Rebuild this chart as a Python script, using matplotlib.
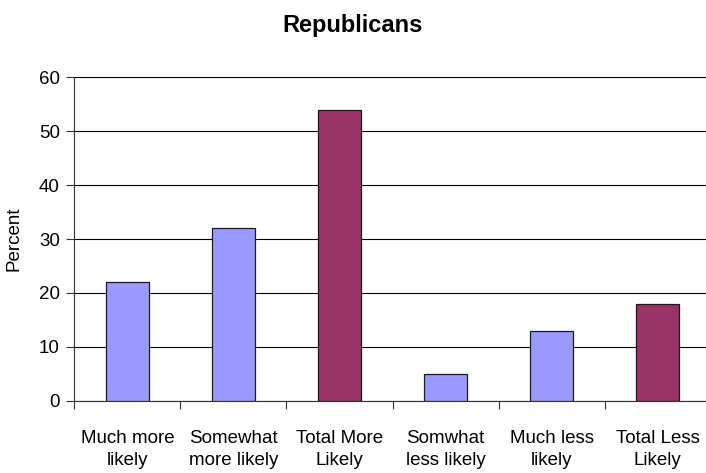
import matplotlib
matplotlib.use("Agg")
import matplotlib.pyplot as plt
import numpy as np

categories = ["Much more\nlikely", "Somewhat\nmore likely", "Total More\nLikely",
              "Somwhat\nless likely", "Much less\nlikely", "Total Less\nLikely"]
values = [22, 32, 54, 5, 13, 18]
bar_colors = ["#9999FF", "#9999FF", "#993366", "#9999FF", "#9999FF", "#993366"]
y_ticks = [0, 10, 20, 30, 40, 50, 60]

plt.rcParams["font.family"] = ["Liberation Sans", "DejaVu Sans"]

fig = plt.figure(figsize=(7.06, 4.73), dpi=100)
ax = fig.add_axes([74.4 / 706, 1 - 400.7 / 473, (710.6 - 74.4) / 706, (400.7 - 77.3) / 473])

x = np.arange(len(categories))
ax.bar(x, values, width=0.4, color=bar_colors, edgecolor="#1a1a1a", linewidth=0.9, zorder=3)

ax.set_xlim(-0.5, len(categories) - 0.5)
ax.set_ylim(0, 60)
ax.set_yticks(y_ticks)
ax.set_yticklabels([str(v) for v in y_ticks], fontsize=13.5)

ax.set_xticks(x)
ax.set_xticklabels(categories, fontsize=13.5, linespacing=1.42)
ax.set_xticks(np.arange(len(categories) + 1) - 0.5, minor=True)
ax.tick_params(axis="x", which="major", length=0, pad=21)
ax.tick_params(axis="x", which="minor", length=5.5, width=0.8, color="#333333")
ax.tick_params(axis="y", length=5.5, width=0.8, pad=5, color="#333333")

ax.grid(axis="y", color="black", linewidth=0.8, zorder=0)
ax.set_axisbelow(True)
for side in ("top", "right"):
    ax.spines[side].set_visible(False)
for side in ("left", "bottom"):
    ax.spines[side].set_color("#333333")
    ax.spines[side].set_linewidth(0.8)

fig.text(14 / 706, 1 - 239 / 473, "Percent", rotation=90, fontsize=13.5,
         ha="center", va="center")
fig.text(353 / 706, 1 - 32.4 / 473, "Republicans", fontsize=17, fontweight="bold",
         ha="center", va="baseline")

fig.savefig("out.png", dpi=100)
